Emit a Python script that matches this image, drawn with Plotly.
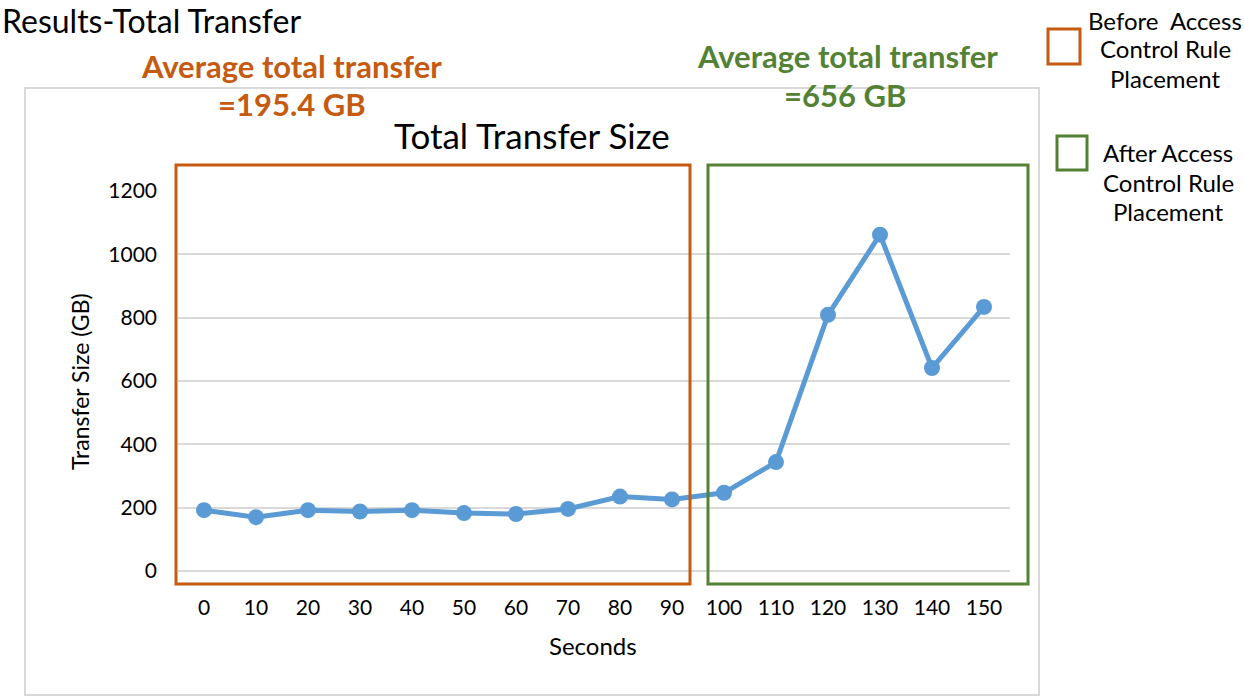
import plotly.graph_objects as go

seconds = ["0", "10", "20", "30", "40", "50", "60", "70", "80", "90",
           "100", "110", "120", "130", "140", "150"]
transfer_gb = [192, 170, 192, 188, 192, 183, 180, 196, 235, 226,
               247, 344, 809, 1062, 641, 834]
y_ticks = [0, 200, 400, 600, 800, 1000, 1200]

W, H = 1244, 700
L, R, T, B = 178, 1010, 191, 571
FONT = "Lato"
ORANGE = "#C55A11"
GREEN = "#548235"
BLUE = "#5B9BD5"


def px(x):
    return (x - L) / (R - L)


def py(y):
    return (B - y) / (B - T)


fig = go.Figure()
fig.add_trace(go.Scatter(
    x=seconds, y=transfer_gb, mode="lines+markers",
    line=dict(color=BLUE, width=5),
    marker=dict(color=BLUE, size=16),
    showlegend=False,
))

shapes = []


def rect(x0, y0, x1, y1, color, width):
    shapes.append(dict(type="rect", xref="paper", yref="paper",
                       x0=px(x0), x1=px(x1), y0=py(y1), y1=py(y0),
                       line=dict(color=color, width=width),
                       fillcolor="rgba(0,0,0,0)", layer="above"))


rect(25, 88, 1039, 695, "#D9D9D9", 2)
rect(176, 165, 690, 584, ORANGE, 3)
rect(708, 165, 1028, 584, GREEN, 3)
rect(1048, 29, 1080, 64, ORANGE, 3)
rect(1057, 136, 1087, 170, GREEN, 3)

annotations = []


def text(x, y, s, size, color="#000000", bold=False, xanchor="center"):
    annotations.append(dict(
        xref="paper", yref="paper", x=px(x), y=py(y), text=(f"<b>{s}</b>" if bold else s),
        showarrow=False, xanchor=xanchor, yanchor="middle",
        font=dict(family=FONT, size=size, color=color)))


text(0, 20, "Results-Total Transfer", 32, xanchor="left")
text(291, 66, "Average total transfer", 31, ORANGE, True)
text(292, 104, "=195.4 GB", 31, ORANGE, True)
text(847, 56, "Average total transfer", 31, GREEN, True)
text(845, 95, "=656 GB", 31, GREEN, True)
text(532, 135, "Total Transfer Size", 35)
text(1165, 20, "Before  Access", 24)
text(1165, 49, "Control Rule", 24)
text(1165, 78, "Placement", 24)
text(1168, 152, "After Access", 24)
text(1168, 182, "Control Rule", 24)
text(1168, 212, "Placement", 24)
text(593, 645, "Seconds", 24)
annotations.append(dict(
    xref="paper", yref="paper", x=px(80), y=py(382), text="Transfer Size (GB)",
    showarrow=False, textangle=-90, xanchor="center", yanchor="middle",
    font=dict(family=FONT, size=23, color="#000000")))

fig.update_layout(
    width=W, height=H, autosize=False,
    margin=dict(l=L, r=W - R, t=T, b=H - B, pad=0),
    paper_bgcolor="white", plot_bgcolor="white",
    font=dict(family=FONT, size=21, color="#000000"),
    shapes=shapes, annotations=annotations,
    xaxis=dict(type="category", range=[-0.5, len(seconds) - 0.5],
               showgrid=False, showline=False, zeroline=False,
               ticks="", ticklabelstandoff=22,
               tickfont=dict(family=FONT, size=21, color="#000000")),
    yaxis=dict(range=[0, 1200], tickvals=y_ticks, showgrid=True,
               gridcolor="#D9D9D9", gridwidth=1.5, zeroline=True,
               zerolinecolor="#D9D9D9", zerolinewidth=1.5, showline=False,
               ticks="", ticklabelstandoff=20,
               tickfont=dict(family=FONT, size=21, color="#000000")),
)

fig.write_html("out.html", config={"displayModeBar": False},
               post_script="document.body.style.margin='0';document.body.style.overflow='hidden';")
